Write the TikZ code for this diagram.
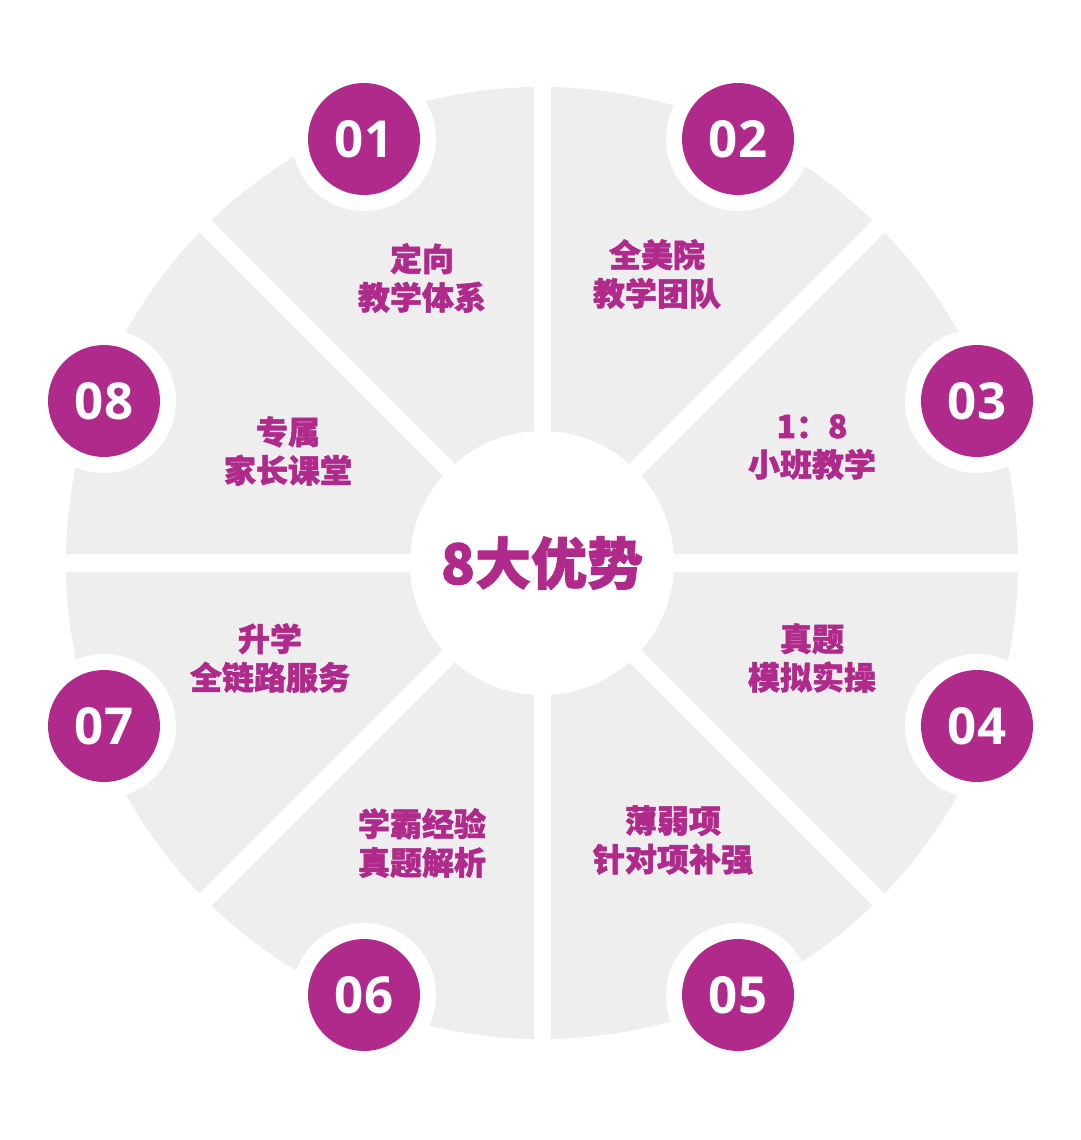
\documentclass[tikz,border=0pt]{standalone}
\usepackage{fontspec}
\newfontfamily\cjk{Noto Sans CJK SC}[BoldFont={Noto Sans CJK SC Black},BoldFeatures={FakeBold=1.6}]
\newfontfamily\numfont{Open Sans}[BoldFont={Open Sans Bold}]
\definecolor{ppl}{HTML}{B02A8C}
\definecolor{lgray}{HTML}{EEEEEE}
\tikzset{
  gapline/.style={draw=white, line width=17pt},
  numc/.style={circle, fill=ppl, minimum size=112pt, inner sep=0pt,
    preaction={draw=white, line width=32pt},
    text=white, font=\numfont\bfseries\fontsize{51}{51}\selectfont},
  lbl/.style={text=ppl, align=center, inner sep=0pt,
    font=\cjk\bfseries\fontsize{32}{38.5}\selectfont},
  ctr/.style={circle, fill=white, minimum size=264pt, inner sep=0pt,
    text=ppl, font=\cjk\bfseries\fontsize{56}{56}\selectfont}
}
\begin{document}
\begin{tikzpicture}[x=1pt,y=-1pt]
\useasboundingbox (0,0) rectangle (1080,1140);
\fill[white] (0,0) rectangle (1080,1140);
\coordinate (o) at (542,563);
\fill[lgray] (o) circle (476pt);
% sector gaps
\draw[gapline] (o) -- ++(0,-500);
\draw[gapline] (o) -- ++(0,500);
\draw[gapline, line width=18pt] (o) -- ++(-500,0);
\draw[gapline, line width=18pt] (o) -- ++(500,0);
\draw[gapline] (o) -- ++(-360,-360);
\draw[gapline] (o) -- ++(360,-360);
\draw[gapline] (o) -- ++(-360,360);
\draw[gapline] (o) -- ++(360,360);
% centre
\node[ctr] (c) at (o) {8大优势};
% number badges
\node[numc] (n1) at (364,139) {01};
\node[numc] (n2) at (738,139) {02};
\node[numc] (n3) at (977,401) {03};
\node[numc] (n4) at (977,726) {04};
\node[numc] (n5) at (738,995) {05};
\node[numc] (n6) at (364,995) {06};
\node[numc] (n7) at (104,726) {07};
\node[numc] (n8) at (104,401) {08};
% labels
\node[lbl] (t1) at (422,278) {定向\\教学体系};
\node[lbl] (t2) at (657,274) {全美院\\教学团队};
\node[lbl] (t3) at (812,447) {1：8\\小班教学};
\node[lbl] (t4) at (812,658) {真题\\模拟实操};
\node[lbl] (t5) at (673,840) {薄弱项\\针对项补强};
\node[lbl] (t6) at (422,843) {学霸经验\\真题解析};
\node[lbl] (t7) at (270,658) {升学\\全链路服务};
\node[lbl] (t8) at (288,451) {专属\\家长课堂};
\end{tikzpicture}
\end{document}
